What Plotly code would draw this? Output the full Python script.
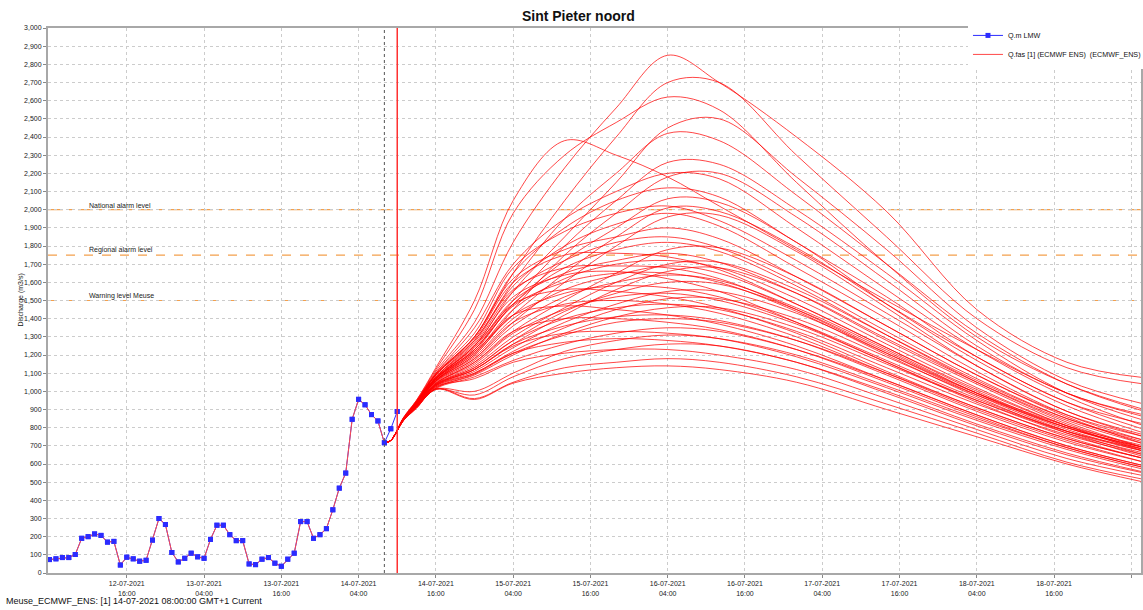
import pandas as pd
import plotly.graph_objects as go

# ---------------- data ----------------
title_text = "Sint Pieter noord"
footer_text = "Meuse_ECMWF_ENS: [1] 14-07-2021 08:00:00 GMT+1 Current"
y_title = "Discharge (m3/s)"

obs_start = "2021-07-12 04:00"          # hourly observations
obs_values = [74, 78, 85, 85, 102, 191, 200, 215, 207, 170, 174, 44, 87, 78, 65, 70,
              181, 300, 267, 113, 61, 81, 109, 89, 81, 185, 263, 263, 211, 178, 178,
              50, 46, 76, 85, 54, 37, 76, 109, 283, 283, 191, 211, 244, 348, 467, 550,
              846, 956, 926, 872, 837, 717, 794, 889]

T0 = "2021-07-14 08:00"       # forecast time (dotted line)
NOW = "2021-07-14 10:00"      # current time (red line)

# ensemble lead times (hours after T0)
ens_hours = [0, 1, 3, 5, 8, 14, 20, 28, 36, 44, 52, 64, 78, 92, 106, 118]
ens_members = [
    [717, 730, 855, 945, 1110, 1380, 1820, 2230, 2560, 2850, 2700, 2400, 1990, 1450, 1160, 1075],
    [717, 730, 852, 940, 1090, 1300, 1650, 2050, 2400, 2700, 2700, 2300, 1850, 1400, 1130, 1040],
    [717, 730, 856, 950, 1120, 1450, 1980, 2300, 2480, 2620, 2550, 2150, 1700, 1300, 1040, 900],
    [717, 730, 858, 952, 1130, 1500, 2050, 2380, 2300, 2180, 2020, 1780, 1500, 1230, 990, 860],
    [717, 730, 850, 935, 1070, 1250, 1550, 1850, 2150, 2450, 2500, 2180, 1780, 1350, 1060, 930],
    [717, 730, 851, 938, 1080, 1280, 1600, 1950, 2200, 2420, 2380, 2080, 1700, 1320, 1040, 890],
    [717, 730, 850, 936, 1075, 1250, 1500, 1800, 2050, 2260, 2250, 2000, 1650, 1280, 990, 840],
    [717, 730, 853, 944, 1100, 1350, 1700, 1950, 2100, 2200, 2170, 1900, 1560, 1230, 970, 810],
    [717, 730, 849, 932, 1060, 1200, 1450, 1750, 1980, 2180, 2200, 1960, 1610, 1250, 990, 870],
    [717, 730, 852, 942, 1095, 1300, 1650, 1900, 2050, 2120, 2070, 1820, 1520, 1190, 940, 790],
    [717, 730, 850, 935, 1070, 1230, 1480, 1720, 1900, 2060, 2040, 1820, 1480, 1170, 920, 770],
    [717, 730, 853, 944, 1100, 1320, 1680, 1880, 1980, 2020, 1940, 1720, 1430, 1140, 890, 750],
    [717, 730, 849, 932, 1060, 1220, 1420, 1650, 1850, 2010, 1990, 1790, 1480, 1190, 940, 820],
    [717, 730, 852, 940, 1090, 1280, 1580, 1800, 1920, 1980, 1910, 1680, 1400, 1110, 870, 730],
    [717, 730, 848, 930, 1055, 1180, 1380, 1600, 1800, 1960, 1970, 1770, 1460, 1140, 890, 760],
    [717, 730, 852, 942, 1095, 1300, 1620, 1780, 1850, 1900, 1840, 1630, 1360, 1090, 860, 710],
    [717, 730, 851, 938, 1080, 1260, 1550, 1720, 1820, 1850, 1790, 1600, 1330, 1070, 850, 720],
    [717, 730, 850, 935, 1070, 1230, 1480, 1680, 1780, 1820, 1770, 1580, 1310, 1050, 830, 690],
    [717, 730, 852, 940, 1090, 1290, 1600, 1750, 1760, 1740, 1670, 1480, 1240, 1010, 810, 680],
    [717, 730, 848, 928, 1045, 1160, 1330, 1500, 1650, 1780, 1790, 1630, 1360, 1090, 870, 750],
    [717, 730, 850, 936, 1075, 1240, 1500, 1650, 1720, 1760, 1710, 1540, 1280, 1040, 820, 690],
    [717, 730, 849, 933, 1065, 1210, 1450, 1620, 1700, 1720, 1680, 1510, 1260, 1020, 810, 670],
    [717, 730, 847, 925, 1040, 1140, 1300, 1460, 1600, 1700, 1710, 1560, 1310, 1060, 850, 730],
    [717, 730, 851, 938, 1080, 1270, 1560, 1680, 1690, 1680, 1620, 1450, 1210, 980, 780, 650],
    [717, 730, 849, 932, 1060, 1190, 1400, 1560, 1640, 1690, 1650, 1480, 1240, 1000, 800, 680],
    [717, 730, 846, 922, 1035, 1120, 1260, 1420, 1560, 1660, 1680, 1540, 1290, 1050, 840, 710],
    [717, 730, 850, 934, 1068, 1220, 1470, 1600, 1650, 1650, 1600, 1440, 1200, 970, 770, 640],
    [717, 730, 848, 929, 1050, 1170, 1360, 1520, 1600, 1640, 1610, 1460, 1230, 990, 790, 670],
    [717, 730, 850, 936, 1072, 1250, 1520, 1640, 1660, 1620, 1550, 1380, 1160, 940, 750, 630],
    [717, 730, 846, 923, 1038, 1130, 1280, 1440, 1540, 1600, 1590, 1450, 1220, 990, 800, 690],
    [717, 730, 849, 931, 1058, 1200, 1420, 1540, 1580, 1570, 1520, 1380, 1170, 960, 780, 670],
    [717, 730, 845, 920, 1030, 1110, 1240, 1380, 1480, 1550, 1550, 1430, 1210, 990, 810, 700],
    [717, 730, 850, 934, 1068, 1230, 1480, 1560, 1550, 1520, 1460, 1320, 1110, 910, 740, 630],
    [717, 730, 847, 927, 1045, 1150, 1320, 1450, 1520, 1540, 1500, 1370, 1160, 950, 770, 660],
    [717, 730, 844, 918, 1025, 1100, 1220, 1350, 1450, 1510, 1510, 1400, 1190, 980, 800, 690],
    [717, 730, 848, 930, 1055, 1180, 1380, 1480, 1500, 1480, 1430, 1300, 1100, 900, 730, 610],
    [717, 730, 846, 924, 1038, 1130, 1280, 1400, 1460, 1480, 1450, 1330, 1130, 930, 760, 650],
    [717, 730, 844, 916, 1020, 1090, 1200, 1320, 1410, 1460, 1460, 1350, 1150, 950, 780, 680],
    [717, 730, 849, 931, 1060, 1210, 1420, 1470, 1450, 1420, 1370, 1250, 1060, 870, 700, 590],
    [717, 730, 845, 921, 1032, 1120, 1260, 1360, 1410, 1420, 1390, 1280, 1090, 890, 720, 610],
    [717, 730, 843, 915, 1018, 1095, 1210, 1310, 1380, 1400, 1380, 1280, 1100, 910, 740, 630],
    [717, 730, 847, 926, 1042, 1160, 1330, 1400, 1400, 1380, 1340, 1230, 1050, 860, 690, 580],
    [717, 730, 843, 914, 1015, 1080, 1170, 1260, 1320, 1350, 1330, 1230, 1060, 870, 700, 590],
    [717, 730, 846, 922, 1035, 1120, 1250, 1320, 1330, 1320, 1290, 1190, 1020, 840, 680, 570],
    [717, 730, 842, 912, 1012, 1000, 1100, 1220, 1280, 1310, 1290, 1200, 1030, 850, 690, 580],
    [717, 730, 845, 920, 1030, 1100, 1210, 1270, 1290, 1280, 1250, 1160, 990, 810, 650, 550],
    [717, 730, 841, 910, 1010, 980, 1080, 1180, 1230, 1260, 1250, 1160, 1000, 820, 660, 555],
    [717, 730, 844, 918, 1025, 1070, 1160, 1210, 1230, 1230, 1200, 1120, 960, 790, 630, 535],
    [717, 730, 840, 908, 1015, 960, 1050, 1130, 1160, 1180, 1160, 1080, 930, 770, 610, 515],
    [717, 730, 840, 907, 1012, 955, 1045, 1100, 1130, 1140, 1120, 1050, 900, 750, 600, 500],
]

level_values = [2000, 1750, 1500]
level_names = ["National alarm level", "Regional alarm level", "Warning level Meuse"]
level_dashes = ["longdashdot", "dash", "dash"]

tick_times = ["2021-07-12 16:00", "2021-07-13 04:00", "2021-07-13 16:00", "2021-07-14 04:00",
              "2021-07-14 16:00", "2021-07-15 04:00", "2021-07-15 16:00", "2021-07-16 04:00",
              "2021-07-16 16:00", "2021-07-17 04:00", "2021-07-17 16:00", "2021-07-18 04:00",
              "2021-07-18 16:00", "2021-07-19 04:00"]
tick_labels = ["12-07-2021<br>16:00", "13-07-2021<br>04:00", "13-07-2021<br>16:00",
               "14-07-2021<br>04:00", "14-07-2021<br>16:00", "15-07-2021<br>04:00",
               "15-07-2021<br>16:00", "16-07-2021<br>04:00", "16-07-2021<br>16:00",
               "17-07-2021<br>04:00", "17-07-2021<br>16:00", "18-07-2021<br>04:00",
               "18-07-2021<br>16:00", ""]
x_range = ["2021-07-12 03:46", "2021-07-19 05:30"]
y_range = [0, 3000]

obs_name = "Q.m LMW"
ens_name = "Q.fas [1] (ECMWF ENS)\u00a0\u00a0(ECMWF_ENS)"

# ---------------- figure ----------------
FONT = "Liberation Sans, Arial, sans-serif"
obs_times = pd.date_range(obs_start, periods=len(obs_values), freq="h")
t0 = pd.Timestamp(T0)
ens_times = [t0 + pd.Timedelta(hours=h) for h in ens_hours]
hist_n = list(obs_times).index(t0) + 1

BLUE = "#2b2bff"
RED = "rgba(255,0,0,0.72)"

fig = go.Figure()
fig.add_trace(go.Scatter(x=obs_times, y=obs_values, mode="lines+markers", name=obs_name,
                         line=dict(color=BLUE, width=1),
                         marker=dict(symbol="square", size=5, color=BLUE),
                         legendgroup="obs"))
fig.add_trace(go.Scatter(x=obs_times[:hist_n], y=obs_values[:hist_n], mode="lines",
                         line=dict(color="#ff4a4a", width=1),
                         showlegend=False, legendgroup="ens", hoverinfo="skip"))
for i, m in enumerate(ens_members):
    fig.add_trace(go.Scatter(x=ens_times, y=m, mode="lines", name=ens_name,
                             line=dict(color=RED, width=1, shape="spline", smoothing=1.0),
                             showlegend=(i == 0), legendgroup="ens"))
fig.add_trace(go.Scatter(x=obs_times, y=obs_values, mode="markers",
                         marker=dict(symbol="square", size=5, color=BLUE),
                         showlegend=False, legendgroup="obs", hoverinfo="skip"))

ORANGE = "#f4a04c"
for v, name, dsh in zip(level_values, level_names, level_dashes):
    fig.add_shape(type="line", xref="paper", x0=0, x1=1, yref="y", y0=v, y1=v,
                  line=dict(color=ORANGE, width=1.2, dash=dsh), layer="below")
    fig.add_annotation(text=name, xref="paper", x=0.0357, yref="y", y=v,
                       xanchor="left", yanchor="bottom", showarrow=False, yshift=-1,
                       font=dict(family=FONT, size=7, color="#222"))

fig.add_shape(type="line", xref="x", x0=T0, x1=T0, yref="paper", y0=0, y1=1,
              line=dict(color="#555", width=1, dash="dot"))
fig.add_shape(type="line", xref="x", x0=NOW, x1=NOW, yref="paper", y0=0, y1=1,
              line=dict(color="#ff3030", width=1.5))

fig.add_annotation(text=footer_text, xref="paper", x=-0.0403, yref="paper", y=-0.0514,
                   xanchor="left", yanchor="middle", showarrow=False,
                   font=dict(family=FONT, size=9, color="#111"))
fig.add_annotation(text=y_title, xref="paper", x=-0.0256, yref="paper", y=0.5,
                   textangle=-90, xanchor="center", yanchor="middle", showarrow=False,
                   font=dict(family=FONT, size=7, color="#111"))

fig.update_layout(
    width=1143, height=610,
    margin=dict(l=48, r=2, t=28, b=37, autoexpand=False),
    paper_bgcolor="white", plot_bgcolor="white",
    font=dict(family=FONT, size=7, color="#111"),
    title=dict(text="<b>" + title_text + "</b>", x=0.506, xref="container", xanchor="center",
               y=1 - 16 / 610, yref="container", yanchor="middle",
               font=dict(family=FONT, size=14, color="#111")),
    showlegend=True,
    legend=dict(x=0.8417, y=1.013, xanchor="left", yanchor="top", bgcolor="white",
                font=dict(family=FONT, size=7.2, color="#111"), itemwidth=30,
                tracegroupgap=0, borderwidth=0),
    xaxis=dict(type="date", range=x_range, tickmode="array", tickvals=tick_times,
               ticktext=tick_labels, showgrid=True, gridcolor="#cccccc", griddash="dot",
               gridwidth=1, showline=True, linecolor="#a8a8a8", linewidth=2, mirror=True,
               ticks="outside", ticklen=3, tickcolor="#888", zeroline=False,
               tickfont=dict(family=FONT, size=7, color="#222")),
    yaxis=dict(range=y_range, tickmode="linear", tick0=0, dtick=100, tickformat=",d",
               showgrid=True, gridcolor="#cccccc", griddash="dot", gridwidth=1,
               showline=True, linecolor="#a8a8a8", linewidth=2, mirror=True,
               ticks="outside", ticklen=3, tickcolor="#888", zeroline=False,
               tickfont=dict(family=FONT, size=7, color="#222")),
)

fig.write_html("out.html", config={"displayModeBar": False},
               post_script="document.body.style.margin='0';")
